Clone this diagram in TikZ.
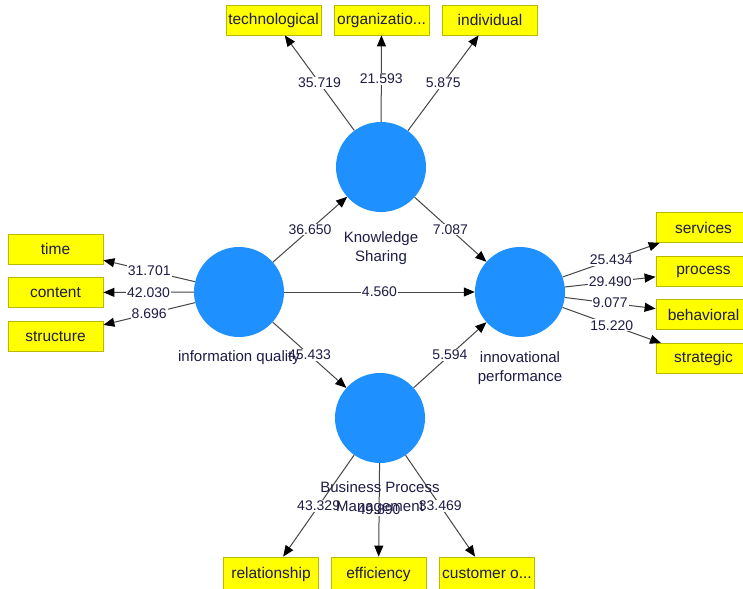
\documentclass[tikz,border=0pt]{standalone}
\usepackage{fontspec}
\setmainfont{Liberation Sans}
\usetikzlibrary{arrows.meta}
\definecolor{lvc}{RGB}{30,144,255}
\definecolor{indc}{RGB}{255,255,0}
\definecolor{indb}{RGB}{185,185,0}
\definecolor{txt}{RGB}{30,28,70}
\definecolor{lnc}{RGB}{70,70,70}
\begin{document}
\begin{tikzpicture}[x=1pt,y=-1pt,
 lvar/.style={circle,fill=lvc,minimum size=90pt,inner sep=0pt},
 indbox/.style={rectangle,fill=indc,draw=indb,line width=0.8pt,minimum width=95pt,minimum height=30pt,inner sep=0pt,font=\fontsize{15.5}{17}\selectfont,text=txt},
 lab/.style={font=\fontsize{15}{19}\selectfont,text=txt,align=center},
 conn/.style={draw=lnc,line width=1pt,-{Triangle[length=11pt,width=9pt,color=black]}},
 num/.style={fill=white,inner sep=1pt,font=\fontsize{14}{16}\selectfont,text=txt,pos=0.5}]
\useasboundingbox (0,0) rectangle (743,588);
\fill[white] (0,0) rectangle (743,588);
% latent variables
\node[lvar] (KS) at (381,167) {};
\node[lvar] (IQ) at (239,292) {};
\node[lvar] (IP) at (520,292) {};
\node[lvar] (BPM) at (380,418) {};
% indicators
\node[indbox] (tech) at (273.5,20) {technological};
\node[indbox] (org) at (381.5,20) {organizatio...};
\node[indbox] (indiv) at (490,20) {individual};
\node[indbox] (time) at (55.5,249) {time};
\node[indbox] (cont) at (55.5,292.5) {content};
\node[indbox] (struc) at (55.5,336.5) {structure};
\node[indbox] (serv) at (703.5,227.5) {services};
\node[indbox] (proc) at (703.5,271.5) {process};
\node[indbox] (behav) at (703.5,314.5) {behavioral};
\node[indbox] (strat) at (703.5,358.5) {strategic};
\node[indbox,minimum height=34pt] (rel) at (271,574) {relationship};
\node[indbox,minimum height=34pt] (eff) at (378.5,574) {efficiency};
\node[indbox,minimum height=34pt] (cust) at (487,574) {customer o...};
% outer connectors
\draw[conn] (KS) -- node[num]{35.719} (tech);
\draw[conn] (KS) -- node[num]{21.593} (org);
\draw[conn] (KS) -- node[num]{5.875} (indiv);
\draw[conn] (IQ) -- node[num]{31.701} (time);
\draw[conn] (IQ) -- node[num]{42.030} (cont);
\draw[conn] (IQ) -- node[num]{8.696} (struc);
\draw[conn] (IP) -- node[num]{25.434} (serv);
\draw[conn] (IP) -- node[num]{29.490} (proc);
\draw[conn] (IP) -- node[num]{9.077} (behav);
\draw[conn] (IP) -- node[num]{15.220} (strat);
\draw[conn] (BPM) -- node[num]{43.329} (rel);
\draw[conn] (BPM) -- node[num]{49.890} (eff);
\draw[conn] (BPM) -- node[num]{33.469} (cust);
% inner connectors
\draw[conn] (IQ) -- node[num]{36.650} (KS);
\draw[conn] (IQ) -- node[num]{4.560} (IP);
\draw[conn] (IQ) -- node[num]{45.433} (BPM);
\draw[conn] (KS) -- node[num]{7.087} (IP);
\draw[conn] (BPM) -- node[num]{5.594} (IP);
% names
\node[lab] (KSl) at (381,248) {Knowledge\\Sharing};
\node[lab] (IQl) at (239,358) {information quality};
\node[lab] (IPl) at (520,368) {innovational\\performance};
\node[lab] (BPMl) at (380,498) {Business Process\\Management};
\end{tikzpicture}
\end{document}
